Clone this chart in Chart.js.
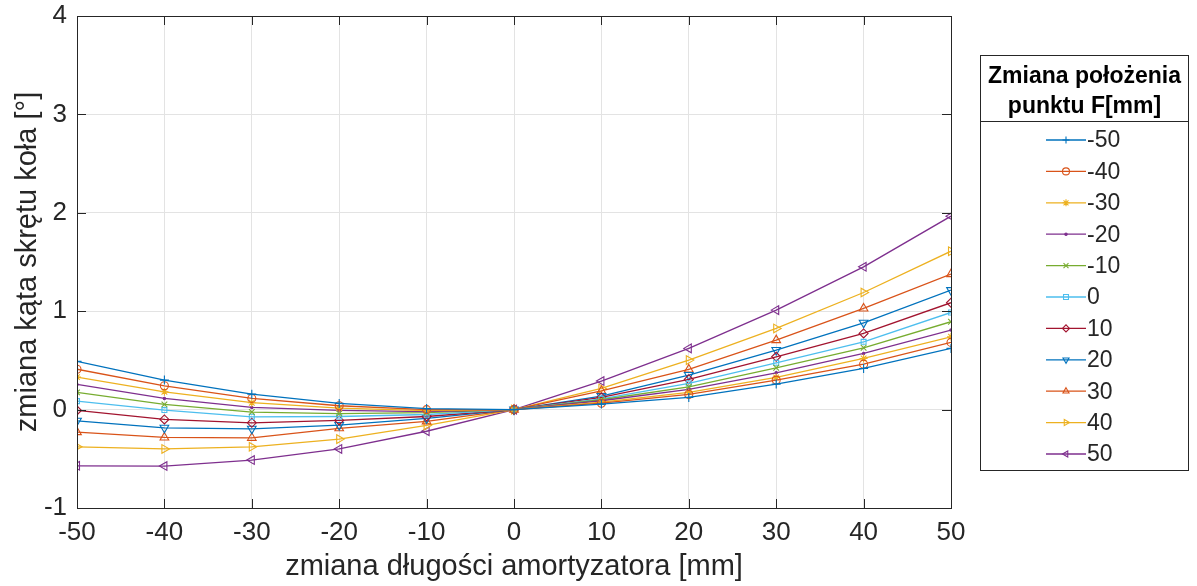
<!DOCTYPE html>
<html lang="pl">
<head>
    <meta charset="UTF-8">
    <title>zmiana kąta skrętu koła</title>
    <script src="https://cdn.jsdelivr.net/npm/chart.js"></script>
    <style>
        html, body { margin: 0; padding: 0; background: #fff; overflow: hidden; }
        #wrap { width: 1197px; height: 586px; }
    </style>
</head>
<body>
<div id="wrap"><canvas id="chart"></canvas></div>
<script>
    // zmiana długości amortyzatora [mm]
    const xValues = [-50, -40, -30, -20, -10, 0, 10, 20, 30, 40, 50];

    // zmiana położenia punktu F [mm]
    const seriesLabels = ['-50', '-40', '-30', '-20', '-10', '0', '10', '20', '30', '40', '50'];

    // odczytane wartości zmiany kąta [°]
    const fMinus50 = [0.49, 0.30, 0.157, 0.063, 0.01, 0, 0.056, 0.124, 0.259, 0.418, 0.622];
    const fMinus40 = [0.41, 0.242, 0.114, 0.039, 0.0, 0, 0.065, 0.154, 0.30, 0.462, 0.683];
    const fMinus30 = [0.33, 0.181, 0.07, 0.015, -0.01, 0, 0.075, 0.175, 0.327, 0.52, 0.74];
    const fMinus20 = [0.256, 0.114, 0.022, -0.008, -0.02, 0, 0.09, 0.205, 0.374, 0.571, 0.808];
    const fMinus10 = [0.175, 0.053, -0.025, -0.04, -0.03, 0, 0.10, 0.232, 0.425, 0.628, 0.893];
    const f0       = [0.086, -0.005, -0.073, -0.07, -0.05, 0, 0.11, 0.266, 0.476, 0.689, 0.987];
    const fPlus10  = [-0.008, -0.1, -0.134, -0.11, -0.07, 0, 0.125, 0.307, 0.537, 0.774, 1.086];
    const fPlus20  = [-0.114, -0.185, -0.195, -0.157, -0.09, 0, 0.137, 0.351, 0.605, 0.882, 1.214];
    const fPlus30  = [-0.229, -0.283, -0.287, -0.19, -0.12, 0, 0.19, 0.408, 0.706, 1.028, 1.377];
    const fPlus40  = [-0.378, -0.40, -0.378, -0.30, -0.16, 0, 0.215, 0.503, 0.825, 1.19, 1.61];
    const fPlus50  = [-0.571, -0.574, -0.513, -0.40, -0.22, 0, 0.29, 0.622, 1.011, 1.451, 1.966];

    const allSeries = [fMinus50, fMinus40, fMinus30, fMinus20, fMinus10, f0, fPlus10, fPlus20, fPlus30, fPlus40, fPlus50];

    // kolory MATLAB
    const colors = ['#0072BD', '#D95319', '#EDB120', '#7E2F8E', '#77AC30', '#4DBEEE', '#A2142F',
                    '#0072BD', '#D95319', '#EDB120', '#7E2F8E'];
    const markers = ['cross', 'circle', 'star', 'circle', 'crossRot', 'rect', 'rectRot',
                     'triangle', 'triangle', 'triangle', 'triangle'];
    const rotations = [0, 0, 0, 0, 0, 0, 0, 180, 0, 90, 270];
    const radii = [4.5, 4, 4, 1.2, 4, 3.5, 4.5, 5, 5, 5, 5];

    const FONT = "'Liberation Sans', Arial, Helvetica, sans-serif";

    const datasets = allSeries.map((vals, i) => ({
        label: seriesLabels[i],
        data: xValues.map((x, j) => ({ x: x, y: vals[j] })),
        borderColor: colors[i],
        backgroundColor: 'rgba(0,0,0,0)',
        pointBorderColor: colors[i],
        pointBackgroundColor: i === 3 ? colors[i] : 'rgba(0,0,0,0)',
        pointStyle: markers[i],
        pointRotation: rotations[i],
        pointRadius: radii[i],
        pointBorderWidth: 1.1,
        borderWidth: 1.3,
        tension: 0
    }));

    // ramka osi z tickami do środka i legenda w stylu MATLAB
    const matlabBox = {
        id: 'matlabBox',
        afterDatasetsDraw(chart) {
            const ctx = chart.ctx;
            const a = chart.chartArea;
            const xs = chart.scales.x, ys = chart.scales.y;
            ctx.save();
            ctx.strokeStyle = '#262626';
            ctx.lineWidth = 1;
            ctx.strokeRect(a.left + 0.5, a.top + 0.5, a.right - a.left, a.bottom - a.top);
            ctx.beginPath();
            xs.ticks.forEach(t => {
                const px = Math.round(xs.getPixelForValue(t.value)) + 0.5;
                ctx.moveTo(px, a.bottom); ctx.lineTo(px, a.bottom - 9);
                ctx.moveTo(px, a.top); ctx.lineTo(px, a.top + 9);
            });
            ys.ticks.forEach(t => {
                const py = Math.round(ys.getPixelForValue(t.value)) + 0.5;
                ctx.moveTo(a.left, py); ctx.lineTo(a.left + 9, py);
                ctx.moveTo(a.right, py); ctx.lineTo(a.right - 9, py);
            });
            ctx.stroke();

            // legenda
            const bx = 980.5, by = 55.5, bw = 208, bh = 415;
            ctx.fillStyle = '#fff';
            ctx.fillRect(bx, by, bw, bh);
            ctx.strokeStyle = '#262626';
            ctx.strokeRect(bx, by, bw, bh);
            ctx.beginPath();
            ctx.moveTo(bx, 121.5); ctx.lineTo(bx + bw, 121.5);
            ctx.stroke();
            ctx.fillStyle = '#000';
            ctx.font = 'bold 23px ' + FONT;
            ctx.textAlign = 'center';
            ctx.textBaseline = 'alphabetic';
            ctx.fillText('Zmiana położenia', bx + bw / 2, 83);
            ctx.fillText('punktu F[mm]', bx + bw / 2, 113);

            ctx.font = '23px ' + FONT;
            ctx.textAlign = 'left';
            ctx.textBaseline = 'middle';
            chart.data.datasets.forEach((ds, i) => {
                const y = 140 + i * 31.4;
                ctx.strokeStyle = ds.borderColor;
                ctx.lineWidth = 1.3;
                ctx.beginPath();
                ctx.moveTo(1046, y); ctx.lineTo(1086, y);
                ctx.stroke();
                ctx.fillStyle = ds.pointBackgroundColor;
                ctx.lineWidth = 1.1;
                Chart.helpers.drawPoint(ctx, {
                    pointStyle: ds.pointStyle,
                    rotation: ds.pointRotation,
                    radius: Math.min(ds.pointRadius, 3.5),
                    borderWidth: 1.1
                }, 1066, y);
                ctx.fillStyle = '#262626';
                ctx.fillText(ds.label, 1087, y + 1);
            });
            ctx.restore();
        }
    };

    new Chart(document.getElementById('chart'), {
        type: 'line',
        data: { datasets: datasets },
        options: {
            responsive: true,
            maintainAspectRatio: false,
            animation: false,
            layout: { padding: { left: 0, right: 246, top: 16, bottom: 0 } },
            plugins: {
                legend: { display: false },
                tooltip: { enabled: false }
            },
            scales: {
                x: {
                    type: 'linear',
                    min: -50, max: 50,
                    ticks: { stepSize: 10, color: '#262626', font: { family: FONT, size: 26 }, padding: 9, maxRotation: 0 },
                    grid: { color: '#e3e3e3', drawTicks: false },
                    border: { display: false },
                    title: { display: true, text: 'zmiana długości amortyzatora [mm]', color: '#262626',
                             font: { family: FONT, size: 29 }, padding: { top: 0, bottom: 2 } },
                    afterFit(scale) { scale.height = 78; scale.paddingLeft = 0; scale.paddingRight = 0; }
                },
                y: {
                    min: -1, max: 4,
                    ticks: { stepSize: 1, color: '#262626', font: { family: FONT, size: 26 }, padding: 10 },
                    grid: { color: '#e3e3e3', drawTicks: false },
                    border: { display: false },
                    title: { display: true, text: 'zmiana kąta skrętu koła [°]', color: '#262626',
                             font: { family: FONT, size: 29 }, padding: { top: 11, bottom: 0 } },
                    afterFit(scale) { scale.width = 77; scale.paddingTop = 0; scale.paddingBottom = 0; }
                }
            }
        },
        plugins: [matlabBox]
    });
</script>
</body>
</html>
